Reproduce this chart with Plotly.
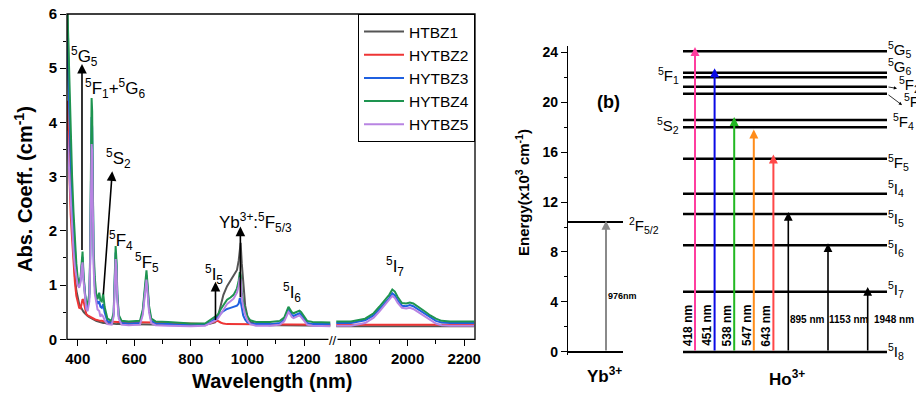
import plotly.graph_objects as go

# ---------------- Panel (a): absorption spectra ----------------
wl_vis = [362, 366, 370, 375, 380, 385, 390, 395, 400, 405,
          410, 414, 417, 420, 425, 430, 435, 441, 444, 447,
          449, 451, 453, 456, 460, 465, 470, 476, 480, 485,
          490, 495, 505, 520, 527, 531, 534, 537, 540, 545,
          555, 580, 620, 630, 636, 640, 643, 647, 652, 660,
          675, 720, 800, 850, 870, 885, 895, 905, 915, 928,
          940, 951, 963, 969, 973, 976, 980, 985, 992, 1000,
          1010, 1030, 1080, 1115, 1130, 1140, 1145, 1150, 1157, 1163,
          1172, 1179, 1184, 1190, 1199, 1211, 1230, 1260, 1293]

vis_HTBZ1 = [6.6, 5.2, 4.0, 2.9, 2.1, 1.55, 1.15, 0.9, 0.75, 0.65,
             0.6, 0.56, 0.53, 0.51, 0.48, 0.45, 0.43, 0.41, 0.4, 0.39,
             0.38, 0.38, 0.37, 0.36, 0.35, 0.34, 0.33, 0.32, 0.31, 0.31,
             0.3, 0.3, 0.29, 0.29, 0.28, 0.28, 0.28, 0.28, 0.28, 0.28,
             0.28, 0.28, 0.27, 0.27, 0.27, 0.27, 0.27, 0.27, 0.27, 0.27,
             0.27, 0.27, 0.26, 0.27, 0.29, 0.31, 0.4, 0.62, 0.82, 0.98,
             1.08, 1.18, 1.28, 1.45, 1.7, 1.78, 1.4, 1.0, 0.62, 0.42,
             0.32, 0.28, 0.26, 0.26, 0.26, 0.26, 0.26, 0.26, 0.26, 0.26,
             0.26, 0.26, 0.26, 0.26, 0.26, 0.25, 0.25, 0.25, 0.25]

vis_HYTBZ2 = [4.4, 3.6, 2.9, 2.3, 1.85, 1.4, 1.05, 0.8, 0.66, 0.58,
              0.57, 0.65, 0.74, 0.72, 0.55, 0.47, 0.44, 0.42, 0.41, 0.4,
              0.4, 0.39, 0.39, 0.38, 0.37, 0.36, 0.35, 0.34, 0.34, 0.34,
              0.33, 0.33, 0.33, 0.32, 0.32, 0.32, 0.32, 0.32, 0.32, 0.32,
              0.32, 0.31, 0.31, 0.31, 0.31, 0.31, 0.31, 0.31, 0.31, 0.31,
              0.31, 0.3, 0.29, 0.28, 0.3, 0.33, 0.34, 0.31, 0.29, 0.28,
              0.28, 0.28, 0.28, 0.28, 0.28, 0.28, 0.28, 0.28, 0.28, 0.28,
              0.27, 0.27, 0.27, 0.27, 0.27, 0.27, 0.27, 0.27, 0.27, 0.27,
              0.27, 0.27, 0.27, 0.27, 0.27, 0.27, 0.27, 0.27, 0.27]

vis_HYTBZ3 = [5.6, 4.9, 4.1, 3.3, 2.6, 2.05, 1.6, 1.28, 1.06, 0.98,
              1.1, 1.45, 1.52, 1.18, 0.8, 0.62, 0.58, 0.78, 1.5, 3.2,
              4.1, 3.9, 2.8, 1.55, 1.0, 0.75, 0.65, 0.7, 0.6, 0.58,
              0.65, 0.5, 0.33, 0.3, 0.46, 1.1, 1.6, 1.35, 0.8, 0.42,
              0.3, 0.29, 0.3, 0.5, 0.88, 1.13, 1.18, 0.93, 0.56, 0.34,
              0.29, 0.28, 0.26, 0.27, 0.32, 0.38, 0.42, 0.47, 0.52, 0.56,
              0.58, 0.6, 0.62, 0.66, 0.76, 0.7, 0.54, 0.44, 0.36, 0.31,
              0.29, 0.28, 0.28, 0.3, 0.36, 0.5, 0.55, 0.52, 0.45, 0.43,
              0.45, 0.47, 0.48, 0.45, 0.38, 0.3, 0.28, 0.28, 0.28]

vis_HYTBZ4 = [6.4, 5.6, 4.7, 3.8, 3.0, 2.35, 1.8, 1.4, 1.12, 1.02,
              1.15, 1.55, 1.62, 1.25, 0.85, 0.68, 0.64, 0.85, 1.6, 3.4,
              4.45, 4.2, 3.0, 1.7, 1.15, 0.85, 0.74, 0.86, 0.72, 0.7,
              0.84, 0.6, 0.38, 0.34, 0.5, 1.2, 1.72, 1.45, 0.85, 0.45,
              0.34, 0.33, 0.34, 0.55, 0.95, 1.22, 1.27, 1.0, 0.62, 0.38,
              0.33, 0.32, 0.29, 0.29, 0.36, 0.41, 0.45, 0.55, 0.64, 0.73,
              0.77, 0.82, 0.94, 1.08, 1.24, 1.18, 0.85, 0.68, 0.54, 0.42,
              0.35, 0.32, 0.32, 0.34, 0.4, 0.55, 0.6, 0.56, 0.5, 0.48,
              0.5, 0.52, 0.53, 0.5, 0.42, 0.34, 0.32, 0.31, 0.31]

vis_HYTBZ5 = [3.85, 3.45, 3.0, 2.45, 2.0, 1.62, 1.32, 1.12, 1.0, 0.95,
              1.05, 1.32, 1.42, 1.1, 0.75, 0.56, 0.52, 0.7, 1.4, 2.9,
              3.6, 3.45, 2.5, 1.35, 0.85, 0.65, 0.55, 0.52, 0.42, 0.45,
              0.42, 0.35, 0.28, 0.27, 0.42, 1.0, 1.48, 1.25, 0.72, 0.38,
              0.27, 0.26, 0.27, 0.45, 0.8, 1.05, 1.1, 0.85, 0.5, 0.3,
              0.26, 0.25, 0.24, 0.25, 0.3, 0.34, 0.38, 0.47, 0.56, 0.65,
              0.7, 0.75, 0.86, 0.98, 1.14, 1.1, 0.78, 0.6, 0.46, 0.35,
              0.28, 0.25, 0.25, 0.27, 0.33, 0.46, 0.5, 0.47, 0.41, 0.39,
              0.41, 0.43, 0.44, 0.41, 0.34, 0.27, 0.25, 0.24, 0.24]

wl_ir = [1748, 1800, 1850, 1880, 1900, 1920, 1935, 1946, 1955, 1965, 1980,
         1995, 2008, 2020, 2035, 2050, 2065, 2080, 2100, 2120, 2150, 2235]
ir_HTBZ1 = [0.24] * 22
ir_HYTBZ2 = [0.27] * 22
ir_HYTBZ3 = [0.3, 0.3, 0.35, 0.44, 0.55, 0.67, 0.76, 0.85, 0.81, 0.72, 0.62,
             0.61, 0.63, 0.61, 0.56, 0.51, 0.45, 0.4, 0.34, 0.31, 0.3, 0.3]
ir_HYTBZ4 = [0.33, 0.33, 0.38, 0.48, 0.6, 0.72, 0.82, 0.92, 0.88, 0.78, 0.67,
             0.66, 0.68, 0.66, 0.61, 0.56, 0.5, 0.44, 0.38, 0.34, 0.33, 0.33]
ir_HYTBZ5 = [0.25, 0.25, 0.3, 0.4, 0.51, 0.63, 0.72, 0.8, 0.76, 0.67, 0.58,
             0.57, 0.58, 0.56, 0.51, 0.46, 0.4, 0.35, 0.29, 0.26, 0.25, 0.25]

series_names = ["HTBZ1", "HYTBZ2", "HYTBZ3", "HYTBZ4", "HYTBZ5"]
vis_series = [vis_HTBZ1, vis_HYTBZ2, vis_HYTBZ3, vis_HYTBZ4, vis_HYTBZ5]
ir_series = [ir_HTBZ1, ir_HYTBZ2, ir_HYTBZ3, ir_HYTBZ4, ir_HYTBZ5]

# ---------------- Panel (b): energy levels ----------------
yb_level_E = [0.0, 10.4]
yb_level_names = ["<sup>2</sup>F<sub>7/2</sub>", "<sup>2</sup>F<sub>5/2</sub>"]
yb_pump_label = "976nm"
yb_pump_tip = 10.5

ho_level_E = [0.0, 4.82, 8.54, 11.04, 12.66, 15.46, 17.98, 18.56, 20.66, 21.22, 21.98, 22.34, 24.06]
ho_level_names = ["<sup>5</sup>I<sub>8</sub>", "<sup>5</sup>I<sub>7</sub>", "<sup>5</sup>I<sub>6</sub>",
                  "<sup>5</sup>I<sub>5</sub>", "<sup>5</sup>I<sub>4</sub>", "<sup>5</sup>F<sub>5</sub>",
                  "<sup>5</sup>S<sub>2</sub>", "<sup>5</sup>F<sub>4</sub>", "<sup>5</sup>F<sub>3</sub>",
                  "<sup>5</sup>F<sub>2</sub>", "<sup>5</sup>F<sub>1</sub>", "<sup>5</sup>G<sub>6</sub>",
                  "<sup>5</sup>G<sub>5</sub>"]
ho_trans_nm = ["418 nm", "451 nm", "538 nm", "547 nm", "643 nm", "895 nm", "1153 nm", "1948 nm"]
ho_trans_tip = [24.4, 22.7, 18.8, 17.8, 15.8, 11.2, 8.7, 5.2]

# ---------------- styles / layout helpers ----------------
FONT = "Liberation Sans, Arial, sans-serif"
series_colors = ["#555555", "#ee3535", "#1f60e0", "#1e9450", "#b884e2"]
trans_colors = ["#ff3d9e", "#0a0ae6", "#22b822", "#ff8c1a", "#ff4848", "black", "black", "black"]
label_side = ["R", "R", "R", "R", "R", "R", "L", "R", "R", "R", "L", "R", "R"]
label_dy = [0, 2, -3, -4.5, 5, -4, 2, -1.5, -8, 2, 2, 6, 2]
label_dx = [0, 0, 0, 0, 0, 0, 0, 5, 16, 11, 0, 0, 0]

W, H = 916, 395

def px(x):
    return x / W

def py(y):
    return 1 - y / H

fig = go.Figure()

for name, yv, yi, col in zip(series_names, vis_series, ir_series, series_colors):
    fig.add_trace(go.Scatter(x=wl_vis, y=yv, mode="lines", name=name, legendgroup=name,
                             line=dict(color=col, width=2), xaxis="x", yaxis="y", hoverinfo="skip"))
    fig.add_trace(go.Scatter(x=wl_ir, y=yi, mode="lines", name=name, legendgroup=name, showlegend=False,
                             line=dict(color=col, width=2), xaxis="x2", yaxis="y", hoverinfo="skip"))

# Panel b level lines (x3 is a schematic, pixel-like axis)
YB_X0, YB_X1 = 0, 55
HO_X0, HO_X1 = 115, 319
for E in yb_level_E:
    fig.add_trace(go.Scatter(x=[YB_X0, YB_X1], y=[E, E], mode="lines", showlegend=False,
                             line=dict(color="black", width=1.8), xaxis="x3", yaxis="y3", hoverinfo="skip"))
for E in ho_level_E:
    fig.add_trace(go.Scatter(x=[HO_X0, HO_X1], y=[E, E], mode="lines", showlegend=False,
                             line=dict(color="black", width=2.4), xaxis="x3", yaxis="y3", hoverinfo="skip"))

ann = []

def txt(text, x, y, xref, yref, size=17, bold=False, **kw):
    d = dict(text=text, x=x, y=y, xref=xref, yref=yref, showarrow=False,
             xanchor="center", yanchor="middle",
             font=dict(family=FONT, size=size, color="black", weight="bold" if bold else "normal"))
    d.update(kw)
    ann.append(d)

def arrow(x, y, ax, ay, xref, yref, color="black", width=1.6, size=1.2, head=2):
    ann.append(dict(text="", x=x, y=y, ax=ax, ay=ay, xref=xref, yref=yref, axref=xref, ayref=yref,
                    showarrow=True, arrowhead=head, arrowsize=size, arrowwidth=width, arrowcolor=color,
                    standoff=0, startstandoff=0))

# ---- Panel a annotations ----
arrow(415, 5.08, 415, 1.62, "x", "y")
arrow(522, 3.1, 490, 0.8, "x", "y")
arrow(887, 1.06, 887, 0.33, "x", "y")
arrow(975, 2.08, 975, 0.75, "x", "y")
txt("<sup>5</sup>G<sub>5</sub>", 423, 5.22, "x", "y")
txt("<sup>5</sup>F<sub>1</sub>+<sup>5</sup>G<sub>6</sub>", 533, 4.62, "x", "y")
txt("<sup>5</sup>S<sub>2</sub>", 543, 3.33, "x", "y")
txt("<sup>5</sup>F<sub>4</sub>", 553, 1.83, "x", "y")
txt("<sup>5</sup>F<sub>5</sub>", 646, 1.41, "x", "y")
txt("<sup>5</sup>I<sub>5</sub>", 880, 1.2, "x", "y")
txt("Yb<sup>3+</sup>:<sup>5</sup>F<sub>5/3</sub>", 1030, 2.16, "x", "y")
txt("<sup>5</sup>I<sub>6</sub>", 1159, 0.86, "x", "y")
txt("<sup>5</sup>I<sub>7</sub>", 1956, 1.34, "x2", "y")
txt("//", px(333), py(340), "paper", "paper", size=13, bgcolor="white", borderpad=0)
txt("Wavelength (nm)", px(272), py(381), "paper", "paper", size=20, bold=True)
txt("Abs. Coeff. (cm<sup>-1</sup>)", px(23), py(189), "paper", "paper", size=20, bold=True,
    textangle=-90)

# ---- Panel b annotations ----
arrow(38, yb_pump_tip, 38, 0, "x3", "y3", color="#8a8a8a", width=2, size=0.9)
txt(yb_pump_label, 54, 4.5, "x3", "y3", size=9, bold=True)
for E, name in zip(yb_level_E, yb_level_names):
    txt(name, 59, E - 0.3, "x3", "y3", size=15, xanchor="left")

for i, (nm, tip, col) in enumerate(zip(ho_trans_nm, ho_trans_tip, trans_colors)):
    if i < 5:
        xa = 127 + 19.6 * i
        arrow(xa, tip, xa, 0, "x3", "y3", color=col, width=2, size=0.9)
        txt(nm, xa - 7.5, 2.1, "x3", "y3", size=12, bold=True, textangle=-90)
    else:
        xa = 220.3 + 39.7 * (i - 5)
        arrow(xa, tip, xa, 0, "x3", "y3", color=col, width=1.6, size=1.1)
        shift = [19, 21, 26.5][i - 5]
        txt(nm, xa + shift, 2.56, "x3", "y3", size=10, bold=True)

for E, name, side, dy, dx in zip(ho_level_E, ho_level_names, label_side, label_dy, label_dx):
    if side == "R":
        txt(name, HO_X1 - 1 + dx, E, "x3", "y3", size=15, xanchor="left", yshift=dy)
        if dx > 6:
            arrow(HO_X1 + dx - 1, E - (0.13 if dx < 14 else 0.9), HO_X1, E, "x3", "y3",
                  width=0.8, size=0.8)
    else:
        txt(name, 100, E, "x3", "y3", size=15, yshift=dy)

txt("(b)", 40, 20.04, "x3", "y3", size=18, bold=True)
txt("Yb<sup>3+</sup>", px(604), py(375), "paper", "paper", size=17, bold=True)
txt("Ho<sup>3+</sup>", px(787), py(378), "paper", "paper", size=17, bold=True)
txt("Energy(x10<sup>3</sup> cm<sup>-1</sup>)", px(523), py(193), "paper", "paper", size=15,
    bold=True, textangle=-90)

tickfont = dict(family=FONT, size=15, color="black", weight="bold")
common_x = dict(ticks="outside", ticklen=6, tickwidth=1.2, tickcolor="black", showline=False,
                showgrid=False, zeroline=False, tickfont=tickfont, automargin=False,
                ticklabeloverflow="allow")

Y0 = py(339.3)
Y1 = py(14)

fig.update_layout(
    template="none",
    width=W, height=H, autosize=False,
    margin=dict(l=0, r=0, t=0, b=0, pad=0),
    paper_bgcolor="white", plot_bgcolor="rgba(0,0,0,0)",
    showlegend=True,
    legend=dict(x=px(475), xanchor="right", y=Y1, yanchor="top", bordercolor="black", borderwidth=1,
                bgcolor="white", font=dict(family=FONT, size=15.5, color="black"), itemwidth=40,
                tracegroupgap=0),
    xaxis=dict(domain=[px(67), px(332)], range=[362, 1299], anchor="y", tick0=400, dtick=200,
               minor=dict(tick0=400, dtick=100, ticks="outside", ticklen=4, tickcolor="black"), **common_x),
    xaxis2=dict(domain=[px(332), px(475)], range=[1733, 2238], anchor="y", tick0=1800, dtick=200,
                minor=dict(tick0=1800, dtick=100, ticks="outside", ticklen=4, tickcolor="black"), **common_x),
    yaxis=dict(domain=[Y0, Y1], range=[0, 6], anchor="x", tick0=0, dtick=1, ticks="outside", ticklen=6,
               tickwidth=1.2, tickcolor="black", showline=False, showgrid=False, zeroline=False,
               automargin=False, ticklabeloverflow="allow",
               minor=dict(tick0=0, dtick=0.5, ticks="outside", ticklen=3, tickcolor="black"),
               tickfont=dict(family=FONT, size=15, color="black", weight="bold")),
    xaxis3=dict(domain=[px(568), 1.0], range=[0, 348], anchor="y3", visible=False, automargin=False),
    yaxis3=dict(domain=[py(355.1), py(46.4)], range=[-0.25, 24.45], anchor="x3", tick0=0, dtick=4,
                ticks="outside", ticklen=6, tickwidth=1.2, tickcolor="black", showline=True,
                linecolor="black", linewidth=1.2, showgrid=False, zeroline=False, automargin=False,
                ticklabeloverflow="allow",
                minor=dict(tick0=0, dtick=2, ticks="outside", ticklen=3, tickcolor="black"),
                tickfont=dict(family=FONT, size=14, color="black", weight="bold")),
    annotations=ann,
    shapes=[dict(type="rect", xref="paper", yref="paper", x0=px(67), x1=px(475), y0=Y0, y1=Y1,
                 line=dict(color="black", width=1.3), layer="above")],
)

# place the figure at the window's top-left corner with no page margin, scrollbars or toolbar
fig.write_html("out.html", config={"displayModeBar": False},
               post_script="document.body.style.margin='0';document.body.style.overflow='hidden';")
